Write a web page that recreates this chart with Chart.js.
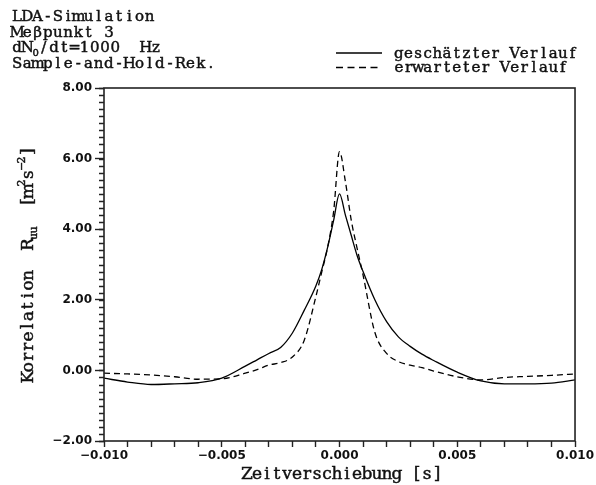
<!DOCTYPE html>
<html>
<head>
<meta charset="utf-8">
<script src="https://cdn.jsdelivr.net/npm/chart.js@4/dist/chart.umd.min.js"></script>
<style>
  html, body { margin: 0; padding: 0; background: #fff; }
  canvas { display: block; }
</style>
</head>
<body>
<canvas id="c" width="596" height="485"></canvas>
<script>
// Zeitverschiebung [s]
const timeShift = [
  -0.010, -0.009, -0.008, -0.007, -0.006, -0.005, -0.004, -0.0035, -0.003, -0.0025,
  -0.002, -0.0015, -0.001, -0.00075, -0.0005, -0.00025, 0, 0.00025, 0.0005, 0.00075,
  0.001, 0.0015, 0.002, 0.0025, 0.003, 0.0035, 0.004, 0.005, 0.006, 0.007,
  0.008, 0.009, 0.010
];
// geschätzter Verlauf (Sample-and-Hold-Rekonstruktion)
const estimated = [
  -0.22, -0.33, -0.40, -0.38, -0.35, -0.22, 0.12, 0.30, 0.48, 0.65,
  1.06, 1.70, 2.40, 2.87, 3.50, 4.25, 5.00, 4.40, 3.82, 3.25,
  2.80, 2.00, 1.38, 0.95, 0.68, 0.46, 0.28, -0.05, -0.30, -0.38,
  -0.38, -0.36, -0.27
];
// erwarteter Verlauf
const expected = [
  -0.08, -0.10, -0.13, -0.18, -0.25, -0.24, -0.08, 0.02, 0.15, 0.22,
  0.38, 0.85, 2.10, 2.80, 3.50, 4.50, 6.20, 5.35, 4.25, 3.45,
  2.70, 1.08, 0.48, 0.25, 0.15, 0.08, -0.02, -0.18, -0.27, -0.20,
  -0.17, -0.14, -0.10
];
const yMin = -2, yMax = 8, yStep = 2, yMinorStep = 0.2;
const xMin = -0.010, xMax = 0.010, xStep = 0.001;

const headerLines = [
  [{ t: 'LDA-Simulation' }],
  [{ t: 'Meβpunkt 3' }],
  [{ t: 'dN' }, { t: '0', sub: true }, { t: '/dt=1000  Hz' }],
  [{ t: 'Sample-and-Hold-Rek.' }]
];
const legendLabels = ['geschätzter Verlauf', 'erwarteter Verlauf'];
const xTitle = [{ t: 'Zeitverschiebung [s]' }];
const yTitle = [
  { t: 'Korrelation  R' }, { t: 'uu', sub: true }, { t: '  [m' },
  { t: '2', sup: true }, { t: 's' }, { t: '\u22122', sup: true }, { t: ']' }
];

const SERIF = '"DejaVu Serif", "Liberation Serif", serif';
const INK = '#111';

function toPoints(xs, ys) { return xs.map((x, i) => ({ x: x, y: ys[i] })); }

// typewriter-style text: every character sits centred in a fixed-width cell;
// runs may be subscript or superscript
function monoWidth(parts, cell) {
  let w = 0;
  for (const p of parts) w += [...p.t].length * ((p.sub || p.sup) ? cell * 0.62 : cell);
  return w;
}
function drawMono(ctx, parts, x, y, size, cell) {
  let cx = x;
  ctx.lineWidth = 0.45;
  ctx.strokeStyle = INK;
  for (const p of parts) {
    const small = p.sub || p.sup;
    const s = small ? Math.round(size * 0.65) : size;
    const c = small ? cell * 0.62 : cell;
    ctx.font = s + 'px ' + SERIF;
    let dy = 0;
    if (p.sub) dy = size * 0.24;
    if (p.sup) dy = -size * 0.45;
    for (const ch of p.t) {
      const w = ctx.measureText(ch).width;
      if (ch !== ' ') {
        ctx.fillText(ch, cx + (c - w) / 2, y + dy);
        ctx.strokeText(ch, cx + (c - w) / 2, y + dy);
      }
      cx += c;
    }
  }
}

const decorations = {
  id: 'decorations',
  afterDraw(chart) {
    const ctx = chart.ctx;
    const area = chart.chartArea;
    const ys = chart.scales.y;
    ctx.save();
    ctx.fillStyle = INK;
    ctx.strokeStyle = '#222';

    // frame
    ctx.lineWidth = 1.6;
    ctx.setLineDash([]);
    ctx.strokeRect(area.left, area.top, area.right - area.left, area.bottom - area.top);

    // minor ticks on the value axis
    ctx.lineWidth = 1.4;
    ctx.beginPath();
    const n = Math.round((yMax - yMin) / yMinorStep);
    for (let i = 0; i <= n; i++) {
      const v = yMin + i * yMinorStep;
      const py = Math.round(ys.getPixelForValue(v)) + 0.5;
      ctx.moveTo(area.left - 5, py);
      ctx.lineTo(area.left, py);
    }
    ctx.stroke();

    // header block
    ctx.textBaseline = 'alphabetic';
    ctx.textAlign = 'left';
    headerLines.forEach((line, i) => drawMono(ctx, line, 12, 21 + i * 15.5, 15, 10.2));

    // legend
    const lx0 = 336, lx1 = 382;
    [53, 67.5].forEach((ly, i) => {
      ctx.lineWidth = 1.3;
      ctx.strokeStyle = '#000';
      ctx.setLineDash(i === 0 ? [] : [7, 4.5]);
      ctx.beginPath();
      ctx.moveTo(lx0, ly);
      ctx.lineTo(lx1, ly);
      ctx.stroke();
      ctx.setLineDash([]);
      drawMono(ctx, [{ t: legendLabels[i] }], 394, ly + 4.5, 15, 9.65);
    });

    // axis titles
    const xw = monoWidth(xTitle, 10);
    drawMono(ctx, xTitle, 342 - xw / 2, 479, 17, 10);

    ctx.translate(33, (area.top + area.bottom) / 2);
    ctx.rotate(-Math.PI / 2);
    const yw = monoWidth(yTitle, 10.2);
    drawMono(ctx, yTitle, -yw / 2, 0, 17, 10.2);
    ctx.restore();
  }
};

new Chart(document.getElementById('c'), {
  type: 'line',
  data: {
    datasets: [
      {
        label: legendLabels[0],
        data: toPoints(timeShift, estimated),
        borderColor: '#000',
        borderWidth: 1.3,
        pointRadius: 0,
        cubicInterpolationMode: 'monotone',
        fill: false
      },
      {
        label: legendLabels[1],
        data: toPoints(timeShift, expected),
        borderColor: '#000',
        borderWidth: 1.3,
        borderDash: [6, 4],
        pointRadius: 0,
        cubicInterpolationMode: 'monotone',
        fill: false
      }
    ]
  },
  options: {
    responsive: false,
    animation: false,
    devicePixelRatio: 1,
    layout: { padding: { left: 0, top: 88, right: 20, bottom: 0 } },
    plugins: { legend: { display: false }, tooltip: { enabled: false } },
    scales: {
      x: {
        type: 'linear',
        min: xMin,
        max: xMax,
        afterFit(s) { s.height = 44; },
        afterBuildTicks(s) {
          const ticks = [];
          const n = Math.round((xMax - xMin) / xStep);
          for (let i = 0; i <= n; i++) ticks.push({ value: xMin + i * xStep });
          s.ticks = ticks;
        },
        ticks: {
          autoSkip: false,
          maxRotation: 0,
          padding: 2,
          color: INK,
          font: { family: '"DejaVu Sans", sans-serif', size: 12, weight: 'bold' },
          callback(v) {
            const k = Math.round(v * 1000);
            if (k % 5 !== 0) return '';
            const s = Math.abs(v).toFixed(3);
            return k < 0 ? '\u2212' + s : s;
          }
        },
        grid: { drawOnChartArea: false, drawTicks: true, tickLength: 6, color: '#222', tickWidth: 1.4 },
        border: { display: false }
      },
      y: {
        type: 'linear',
        min: yMin,
        max: yMax,
        afterFit(s) { s.width = 104; },
        ticks: {
          stepSize: yStep,
          padding: 3,
          color: INK,
          font: { family: '"DejaVu Sans", sans-serif', size: 12, weight: 'bold' },
          callback(v) {
            const s = Math.abs(v).toFixed(2);
            return v < 0 ? '\u2212' + s : s;
          }
        },
        grid: { drawOnChartArea: false, drawTicks: true, tickLength: 9, color: '#222', tickWidth: 1.4 },
        border: { display: false }
      }
    }
  },
  plugins: [decorations]
});
</script>
</body>
</html>
